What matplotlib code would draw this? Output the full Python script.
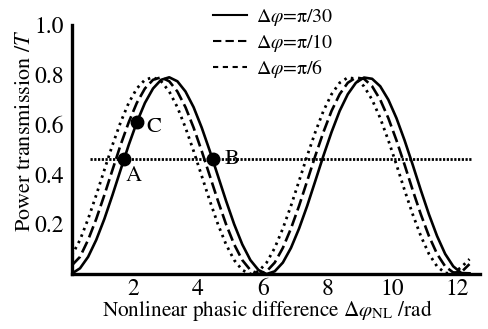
import matplotlib
matplotlib.use('Agg')
import matplotlib.pyplot as plt
from matplotlib.lines import Line2D

plt.rcParams['font.family'] = ['STIXGeneral', 'DejaVu Serif']
plt.rcParams['mathtext.fontset'] = 'stix'

phase = [0.12, 0.37, 0.62, 0.87, 1.12, 1.37, 1.62, 1.87, 2.12, 2.37,
         2.62, 2.87, 3.12, 3.37, 3.62, 3.87, 4.12, 4.37, 4.62, 4.87,
         5.12, 5.37, 5.62, 5.87, 6.12, 6.37, 6.62, 6.87, 7.12, 7.37,
         7.62, 7.87, 8.12, 8.37, 8.62, 8.87, 9.12, 9.37, 9.62, 9.87,
         10.12, 10.37, 10.62, 10.87, 11.12, 11.37, 11.62, 11.87, 12.12, 12.37]

T_pi30 = [0.002, 0.023, 0.069, 0.137, 0.221, 0.317, 0.418, 0.518, 0.609, 0.687,
          0.745, 0.780, 0.790, 0.774, 0.733, 0.670, 0.588, 0.494, 0.394, 0.294,
          0.200, 0.119, 0.056, 0.016, 0.000, 0.011, 0.046, 0.105, 0.183, 0.274,
          0.374, 0.475, 0.570, 0.655, 0.722, 0.768, 0.789, 0.784, 0.754, 0.700,
          0.626, 0.537, 0.439, 0.337, 0.240, 0.153, 0.081, 0.031, 0.004, 0.003]

T_pi10 = [0.035, 0.069, 0.137, 0.221, 0.317, 0.418, 0.518, 0.609, 0.687, 0.745,
          0.780, 0.790, 0.774, 0.733, 0.670, 0.588, 0.494, 0.394, 0.294, 0.200,
          0.119, 0.056, 0.016, 0.000, 0.011, 0.046, 0.105, 0.183, 0.274, 0.374,
          0.475, 0.570, 0.655, 0.722, 0.768, 0.789, 0.784, 0.754, 0.700, 0.626,
          0.537, 0.439, 0.337, 0.240, 0.153, 0.081, 0.031, 0.006, 0.008, 0.040]

T_pi6 = [0.075, 0.137, 0.221, 0.317, 0.418, 0.518, 0.609, 0.687, 0.745, 0.780,
         0.790, 0.774, 0.733, 0.670, 0.588, 0.494, 0.394, 0.294, 0.200, 0.119,
         0.056, 0.016, 0.000, 0.011, 0.046, 0.105, 0.183, 0.274, 0.374, 0.475,
         0.570, 0.655, 0.722, 0.768, 0.789, 0.784, 0.754, 0.700, 0.626, 0.537,
         0.439, 0.337, 0.240, 0.153, 0.081, 0.031, 0.004, 0.003, 0.028, 0.060]

# marked working points
pt_x = [1.72, 2.12, 4.46]
pt_y = [0.46, 0.61, 0.46]
pt_names = ['A', 'C', 'B']

level = 0.46
level_range = [0.68, 12.43]

fig = plt.figure(figsize=(4.89, 3.29), dpi=100)
ax = fig.add_axes([0.147, 0.167, 0.835, 0.757])

ax.plot(phase, T_pi30, color='black', lw=1.9)
ax.plot(phase, T_pi10, color='black', lw=1.9, dashes=(4.5, 1.8))
ax.plot(phase, T_pi6, color='black', lw=2.0, dashes=(0.9, 1.6))
ax.plot(level_range, [level, level], color='black', lw=2.0, dashes=(0.8, 0.55))

ax.plot(pt_x, pt_y, 'o', color='black', ms=9, zorder=5)
offsets = {'A': (0.3, -0.065), 'C': (0.52, -0.02), 'B': (0.6, 0.0)}
for x, y, n in zip(pt_x, pt_y, pt_names):
    dx, dy = offsets[n]
    ax.text(x + dx, y + dy, n, fontsize=16, ha='center', va='center')

ax.set_xlim(0.12, 12.7)
ax.set_ylim(0, 1.0)
ax.set_xticks([2, 4, 6, 8, 10, 12])
ax.set_yticks([0.2, 0.4, 0.6, 0.8, 1.0])
ax.set_yticklabels(['0.2', '0.4', '0.6', '0.8', '1.0'])
ax.tick_params(length=0, labelsize=17)
ax.tick_params(axis='y', pad=6)
ax.tick_params(axis='x', pad=3)
for s in ['top', 'right']:
    ax.spines[s].set_visible(False)
for s in ['left', 'bottom']:
    ax.spines[s].set_linewidth(2.4)

ax.set_xlabel(r'Nonlinear phasic difference $\Delta\varphi_{\rm NL}$ /rad', fontsize=15.3)
ax.xaxis.set_label_coords(0.478, -0.095)
ax.set_ylabel(r'Power transmission /$T$', fontsize=16)
ax.yaxis.set_label_coords(-0.09, 0.575)

handles = [Line2D([], [], color='black', lw=1.5),
           Line2D([], [], color='black', lw=1.5, dashes=(4, 2)),
           Line2D([], [], color='black', lw=1.5, dashes=(2.5, 2.2))]
labels = [r'$\Delta\varphi$=π/30', r'$\Delta\varphi$=π/10', r'$\Delta\varphi$=π/6']
fig.legend(handles, labels, loc='upper left', bbox_to_anchor=(0.408, 1.02),
           frameon=False, fontsize=14.3, handlelength=1.7, handletextpad=0.45,
           labelspacing=0.2, borderpad=0.2)

fig.savefig('out.png', dpi=100)
